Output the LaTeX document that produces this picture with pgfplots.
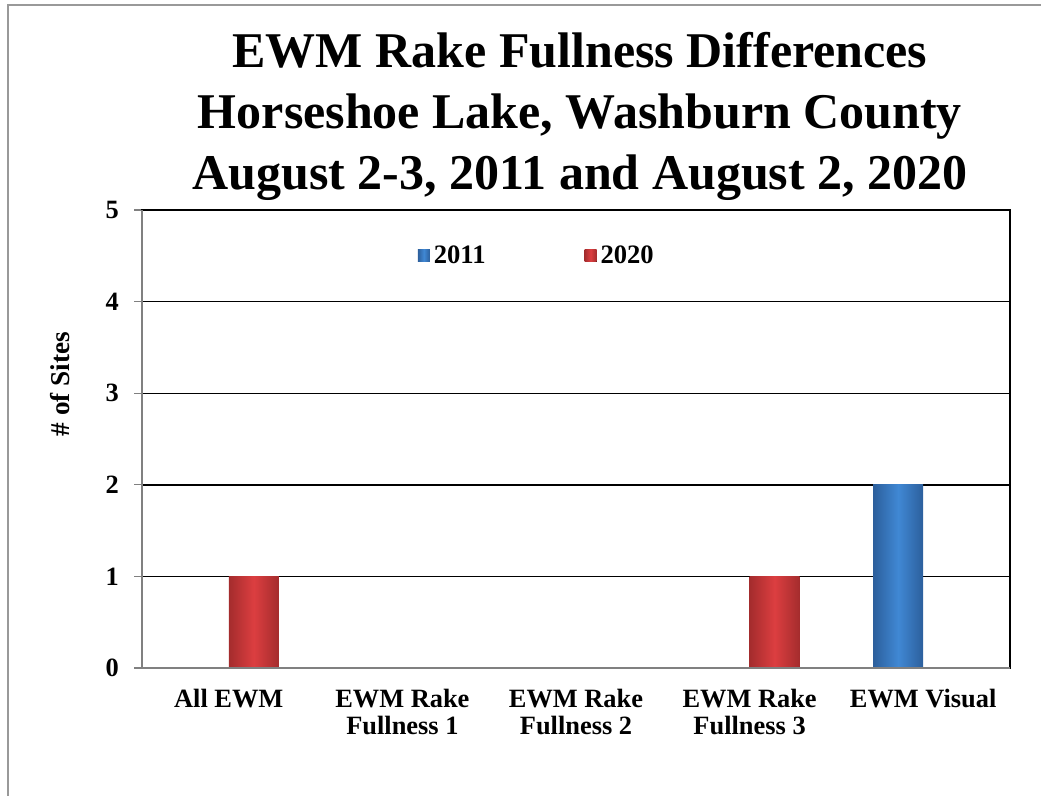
\documentclass[border=0pt]{standalone}
\usepackage{fontspec}
\setmainfont{Liberation Serif}
\usepackage{pgfplots}
\pgfplotsset{compat=1.18}

\definecolor{bluemid}{HTML}{4088D4}
\definecolor{blueedge}{HTML}{2C5F9C}
\definecolor{redmid}{HTML}{DC3E40}
\definecolor{rededge}{HTML}{A42C2D}

\begin{document}
\begin{tikzpicture}
\useasboundingbox (0,0) rectangle (520.5pt,-398pt);
\draw[gray!80, line width=0.8pt] (4pt,-440pt) -- (4pt,-2.5pt) -- (560pt,-2.5pt);
\node[align=center, font=\fontsize{25}{30.5}\selectfont\bfseries] at (290pt,-58pt)
  {EWM Rake Fullness Differences\\Horseshoe Lake, Washburn County\\August 2-3, 2011 and August 2, 2020};
\node[rotate=90, font=\fontsize{13.6}{15}\selectfont\bfseries] at (30pt,-192pt) {\# of Sites};
\begin{axis}[
  at={(71pt,-334pt)}, anchor=south west,
  scale only axis, width=434pt, height=229pt,
  ybar=0pt, bar width=25pt,
  xmin=-0.5, xmax=4.5, ymin=0, ymax=5,
  ytick={0,1,2,3,4,5},
  xtick={0,1,2,3,4},
  ytick pos=left,
  xticklabels={All EWM,{EWM Rake\\Fullness 1},{EWM Rake\\Fullness 2},{EWM Rake\\Fullness 3},EWM Visual},
  /pgf/number format/assume math mode=true,
  ticklabel style={font=\fontsize{13.2}{13.5}\selectfont\bfseries},
  xticklabel style={align=center, yshift=-3pt},
  yticklabel style={xshift=-4pt},
  major x tick style={draw=none},
  major y tick style={gray, line width=0.6pt},
  tick align=outside, major tick length=4pt,
  ymajorgrids, grid style={black, line width=0.7pt},
  axis line style={black, line width=0.7pt},
  legend style={at={(0.456,0.9)}, anchor=center, draw=none, fill=none,
    legend columns=2, font=\fontsize{13.3}{13.5}\selectfont\bfseries,
    /tikz/every even column/.append style={column sep=47.5pt}},
  legend image code/.code={\fill[#1] (0pt,-3pt) rectangle (6pt,3pt);},
  after end axis/.code={
    \draw[gray, line width=0.9pt] (rel axis cs:0,1) -- (rel axis cs:0,0) -- (rel axis cs:1,0);
  },
]
% 2011: All EWM 0, Rake 1 0, Rake 2 0, Rake 3 0, Visual 2
\addplot[draw=none, bar shift=-12.5pt, left color=blueedge, right color=blueedge, middle color=bluemid]
  coordinates {(4,2)};
% 2020: All EWM 1, Rake 1 0, Rake 2 0, Rake 3 1, Visual 0
\addplot[draw=none, bar shift=12.5pt, left color=rededge, right color=rededge, middle color=redmid]
  coordinates {(0,1)};
\addplot[forget plot, draw=none, bar shift=12.5pt, left color=rededge, right color=rededge, middle color=redmid]
  coordinates {(3,1)};
\legend{2011,2020}
\end{axis}
\end{tikzpicture}
\end{document}
